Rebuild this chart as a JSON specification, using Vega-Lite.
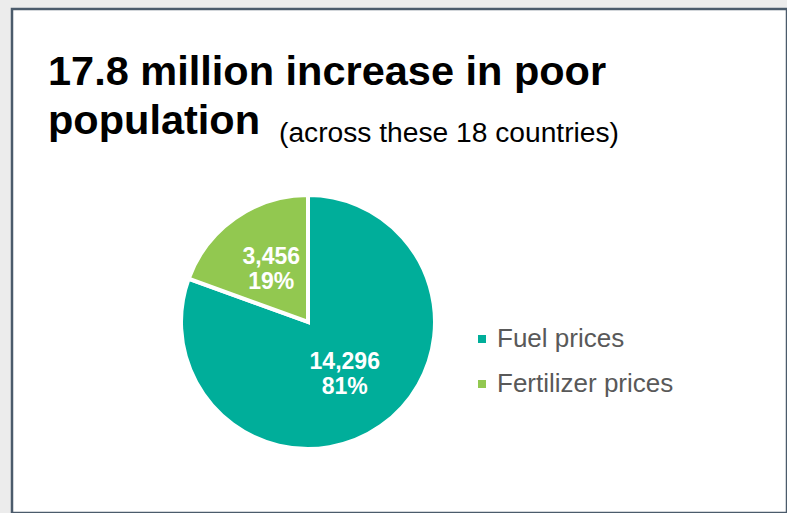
{
  "$schema": "https://vega.github.io/schema/vega-lite/v6.json",
  "width": 775,
  "height": 504,
  "autosize": {"type": "none"},
  "padding": {"left": 12, "top": 9, "right": 0, "bottom": 0},
  "background": "#ececec",
  "view": {"fill": "white", "stroke": "#4b5b6b", "strokeWidth": 2.5},
  "title": {
    "text": ["17.8 million increase in poor", "population"],
    "subtitle": "\u2800\u2800\u2800\u2800\u2800\u2800\u2800\u2800\u2800\u2800\u2800(across these 18 countries)",
    "anchor": "start",
    "frame": "group",
    "offset": -138,
    "dx": 36,
    "font": "Liberation Sans",
    "fontSize": 41.5,
    "fontWeight": "bold",
    "color": "black",
    "lineHeight": 49,
    "subtitleFont": "Liberation Sans",
    "subtitleFontSize": 28.2,
    "subtitleColor": "black",
    "subtitlePadding": -23
  },
  "data": {
    "values": [
      {"category": "Fuel prices", "value": 14296, "pct": 0.81},
      {"category": "Fertilizer prices", "value": 3456, "pct": 0.19}
    ]
  },
  "encoding": {
    "theta": {"field": "value", "type": "quantitative", "stack": true},
    "order": {"field": "value", "sort": "descending"},
    "x": {"value": 296},
    "y": {"value": 313}
  },
  "layer": [
    {
      "mark": {"type": "arc", "outerRadius": 127, "stroke": "white", "strokeWidth": 4},
      "encoding": {
        "color": {
          "field": "category",
          "type": "nominal",
          "scale": {"domain": ["Fuel prices", "Fertilizer prices"], "range": ["#00ae9a", "#92c850"]},
          "legend": {
            "title": null,
            "orient": "none",
            "legendX": 457,
            "legendY": 317,
            "symbolType": "square",
            "symbolSize": 64,
            "symbolStrokeWidth": 0,
            "labelFont": "Liberation Sans",
            "labelFontSize": 26,
            "labelColor": "#595959",
            "labelOffset": 2,
            "labelLimit": 400,
            "rowPadding": 19,
            "padding": 0
          }
        }
      }
    },
    {
      "mark": {"type": "text", "radius": 64, "dy": -12.5, "font": "Liberation Sans", "fontSize": 23, "fontWeight": "bold", "fill": "white", "baseline": "middle"},
      "encoding": {"text": {"field": "value", "type": "quantitative", "format": ",d"}}
    },
    {
      "mark": {"type": "text", "radius": 64, "dy": 12.5, "font": "Liberation Sans", "fontSize": 23, "fontWeight": "bold", "fill": "white", "baseline": "middle"},
      "encoding": {"text": {"field": "pct", "type": "quantitative", "format": ".0%"}}
    }
  ]
}
